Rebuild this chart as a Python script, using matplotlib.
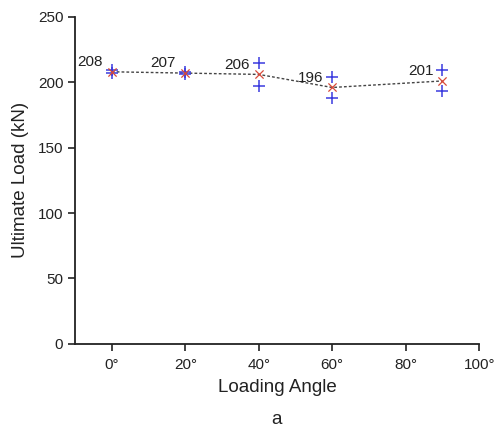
import numpy as np
import matplotlib.pyplot as plt

plt.rcParams['font.family'] = ['Liberation Sans', 'DejaVu Sans']

# Loading angles (deg) and mean ultimate loads (kN)
angles = [0, 20, 40, 60, 90]
mean_load = [208, 207, 206, 196, 201]

# Individual specimen results (two per angle)
spec_angle = [0, 0, 20, 20, 40, 40, 60, 60, 90, 90]
spec_load = [209, 207, 208, 206, 215, 197, 204, 188, 209, 193]

xticks = [0, 20, 40, 60, 80, 100]
xticklabels = ['0°', '20°', '40°', '60°', '80°', '100°']
yticks = [0, 50, 100, 150, 200, 250]

fig = plt.figure(figsize=(4.94, 4.32), dpi=100)
ax = fig.add_axes([0.152, 0.204, 0.818, 0.757])

ax.plot(angles, mean_load, linestyle=(0, (2, 1.5)), color='#444444', lw=1.0, zorder=1)
ax.scatter(spec_angle, spec_load, marker='+', s=80, color='#3a3adf', linewidths=1.1, zorder=2)
ax.scatter(angles, mean_load, marker='x', s=35, color='#d84a3a', linewidths=0.9, zorder=3)

# value labels
for a, m in zip(angles, mean_load):
    ax.text(a - 2.5, m + 2, str(m), fontsize=11, ha='right', va='bottom', color='#222222')

ax.set_xlim(-10, 100)
ax.set_ylim(0, 250)
ax.set_xticks(xticks)
ax.set_xticklabels(xticklabels)
ax.set_yticks(yticks)
ax.tick_params(labelsize=11, width=1.2, length=5, colors='#222222')
ax.tick_params(axis='x', pad=5)
ax.spines['top'].set_visible(False)
ax.spines['right'].set_visible(False)
ax.spines['left'].set_linewidth(1.3)
ax.spines['bottom'].set_linewidth(1.3)
ax.spines['left'].set_color('#222222')
ax.spines['bottom'].set_color('#222222')

ax.set_xlabel('Loading Angle', fontsize=13.5, color='#222222', labelpad=5)
ax.set_ylabel('Ultimate Load (kN)', fontsize=13.5, color='#222222', labelpad=6)

fig.text(0.56, 0.01, 'a', fontsize=13.5, ha='center', va='bottom', color='#222222')

plt.savefig('out.png', dpi=100)
